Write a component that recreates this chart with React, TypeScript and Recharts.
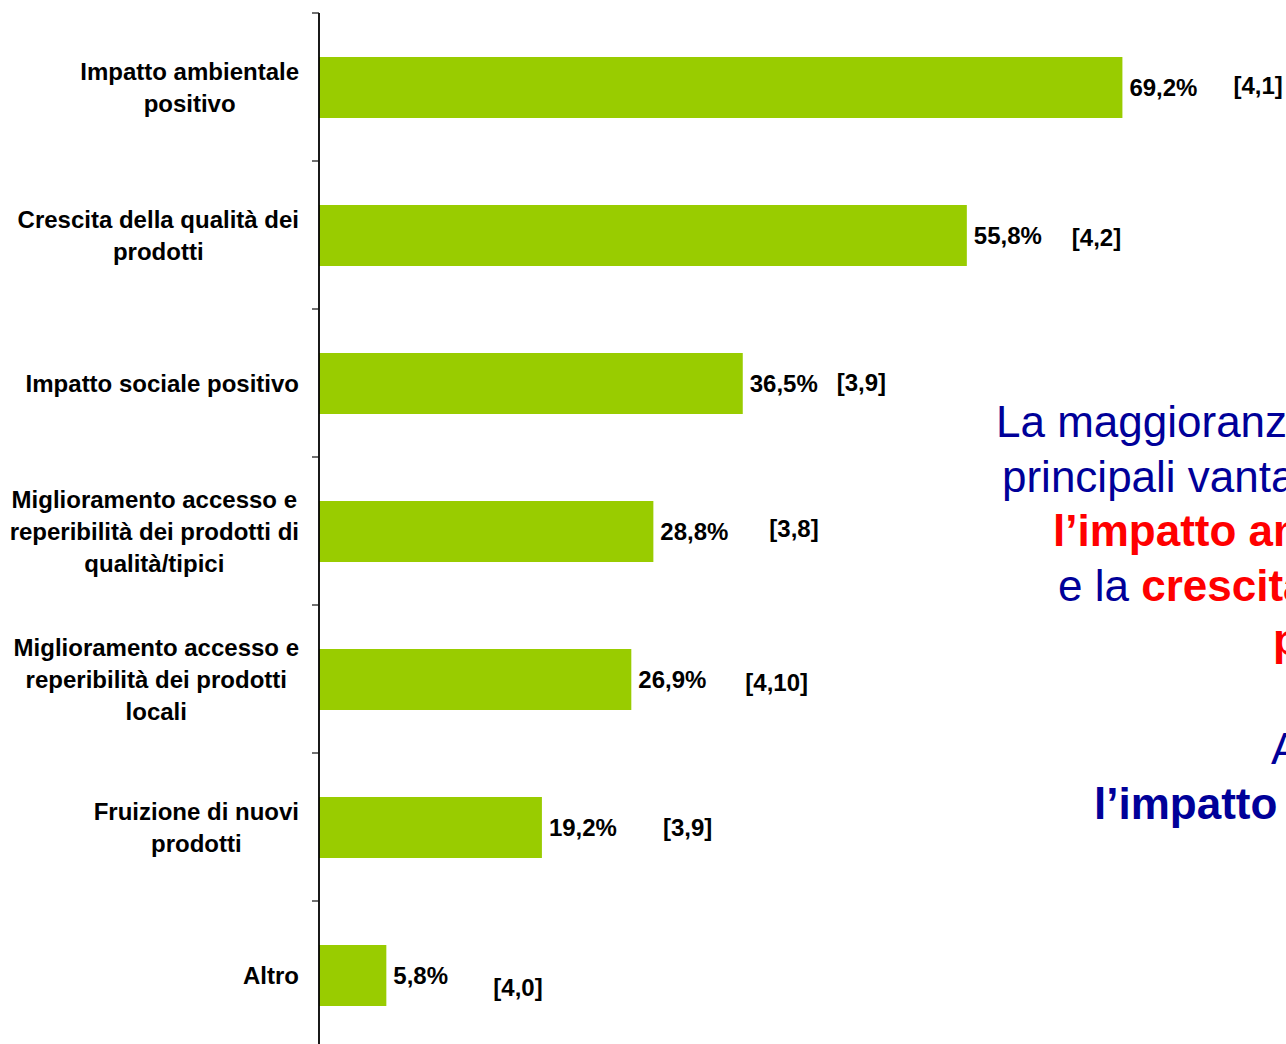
import React from "react";
import { BarChart, Bar, XAxis, YAxis, LabelList } from "recharts";

const categories = [
  "Impatto ambientale\npositivo",
  "Crescita della qualità dei\nprodotti",
  "Impatto sociale positivo",
  "Miglioramento accesso e\nreperibilità dei prodotti di\nqualità/tipici",
  "Miglioramento accesso e\nreperibilità dei prodotti\nlocali",
  "Fruizione di nuovi\nprodotti",
  "Altro",
];
const percentages = [69.2, 55.8, 36.5, 28.8, 26.9, 19.2, 5.8];
const ratings = ["[4,1]", "[4,2]", "[3,9]", "[3,8]", "[4,10]", "[3,9]", "[4,0]"];

// label placement offsets (layout, not data)
const ratingDx = [111, 105, 94, 116, 114, 121, 107];
const ratingDy = [-2, 2, -1, -3, 2.5, 0, 12];

const data = categories.map((name, i) => ({ name, value: percentages[i], rating: ratings[i] }));

const FONT = '"Liberation Sans", Arial, Helvetica, sans-serif';
const GREEN = "#99CC00";
const BLUE = "#000099";
const RED = "#FF0000";
const TICK_MARGIN = 20;
const BOUNDARY_TICK = 7;

let canvasCtx: CanvasRenderingContext2D | null = null;
function measure(text: string, font: string): number {
  if (!canvasCtx) {
    const c = document.createElement("canvas");
    canvasCtx = c.getContext("2d");
  }
  if (!canvasCtx) return text.length * 12;
  canvasCtx.font = font;
  return canvasCtx.measureText(text).width;
}

const CategoryTick = (props: any) => {
  const { x, y, payload, index } = props;
  const count = categories.length;
  const band = props.height && props.height > 0 ? props.height / count : 148;
  const lines: string[] = String(payload.value).split("\n");
  const font = `bold 24px ${FONT}`;
  const maxW = Math.max(...lines.map((l) => measure(l, font)));
  const cx = x - maxW / 2;
  const lh = 32;
  const axisX = x + TICK_MARGIN;
  const boundaries = [y - band / 2];
  if (index === count - 1) boundaries.push(y + band / 2);
  return (
    <g>
      {boundaries.map((by, k) => (
        <line
          key={"b" + k}
          x1={axisX - BOUNDARY_TICK}
          x2={axisX}
          y1={by}
          y2={by}
          stroke="#111"
          strokeWidth={1.2}
        />
      ))}
      {lines.map((l, i) => (
        <text
          key={i}
          x={cx}
          y={y + (i - (lines.length - 1) / 2) * lh}
          dy="0.36em"
          textAnchor="middle"
          fontFamily={FONT}
          fontWeight="bold"
          fontSize={24}
          fill="#000"
        >
          {l}
        </text>
      ))}
    </g>
  );
};

const ValueLabel = (props: any) => {
  const vb = props.viewBox || props;
  const x = vb.x ?? props.x;
  const y = vb.y ?? props.y;
  const w = vb.width ?? props.width;
  const h = vb.height ?? props.height;
  const v = Number(props.value);
  return (
    <text
      x={x + w + 7}
      y={y + h / 2}
      dy="0.36em"
      fontFamily={FONT}
      fontWeight="bold"
      fontSize={24}
      fill="#000"
    >
      {v.toFixed(1).replace(".", ",") + "%"}
    </text>
  );
};

const RatingLabel = (props: any) => {
  const vb = props.viewBox || props;
  const x = vb.x ?? props.x;
  const y = vb.y ?? props.y;
  const w = vb.width ?? props.width;
  const h = vb.height ?? props.height;
  const i = props.index ?? 0;
  return (
    <text
      x={x + w + ratingDx[i]}
      y={y + h / 2 + ratingDy[i]}
      dy="0.36em"
      fontFamily={FONT}
      fontWeight="bold"
      fontSize={24}
      fill="#000"
    >
      {props.value}
    </text>
  );
};

export default function App() {
  const lineY = (k: number) => 437 + k * 54.5;
  return (
    <div
      style={{
        position: "absolute",
        left: 0,
        top: 0,
        width: 1286,
        height: 1044,
        overflow: "hidden",
        background: "#fff",
      }}
    >
      <BarChart
        layout="vertical"
        width={1480}
        height={1060}
        data={data}
        margin={{ top: 13, right: 0, bottom: 11, left: 0 }}
        barSize={61}
      >
        <XAxis type="number" domain={[0, 100]} hide />
        <YAxis
          dataKey="name"
          type="category"
          width={319}
          interval={0}
          tickSize={0}
          tickMargin={TICK_MARGIN}
          tickLine={false}
          axisLine={{ stroke: "#000", strokeWidth: 1.8 }}
          tick={<CategoryTick />}
        />
        <Bar dataKey="value" fill={GREEN} isAnimationActive={false}>
          <LabelList dataKey="value" content={<ValueLabel />} />
          <LabelList dataKey="rating" content={<RatingLabel />} />
        </Bar>
      </BarChart>
      <svg
        width={1286}
        height={1044}
        style={{ position: "absolute", left: 0, top: 0, pointerEvents: "none" }}
      >
        <g fontFamily={FONT} fontSize={44}>
          <text x={996} y={lineY(0)} fill={BLUE}>
            La maggioranza degli intervistati
          </text>
          <text x={1002} y={lineY(1)} fill={BLUE}>
            principali vantaggi dei GAS
          </text>
          <text x={1053} y={lineY(2)} fill={RED} fontWeight="bold">
            l’impatto ambientale positivo
          </text>
          <text x={1058} y={lineY(3)} fill={BLUE}>
            e la <tspan fill={RED} fontWeight="bold">crescita della qualità dei</tspan>
          </text>
          <text x={1273} y={lineY(4)} fill={RED} fontWeight="bold">
            prodotti
          </text>
          <text x={1271} y={lineY(6)} fill={BLUE}>
            A seguire
          </text>
          <text x={1094} y={lineY(7)} fill={BLUE} fontWeight="bold">
            l’impatto sociale positivo
          </text>
        </g>
      </svg>
    </div>
  );
}
